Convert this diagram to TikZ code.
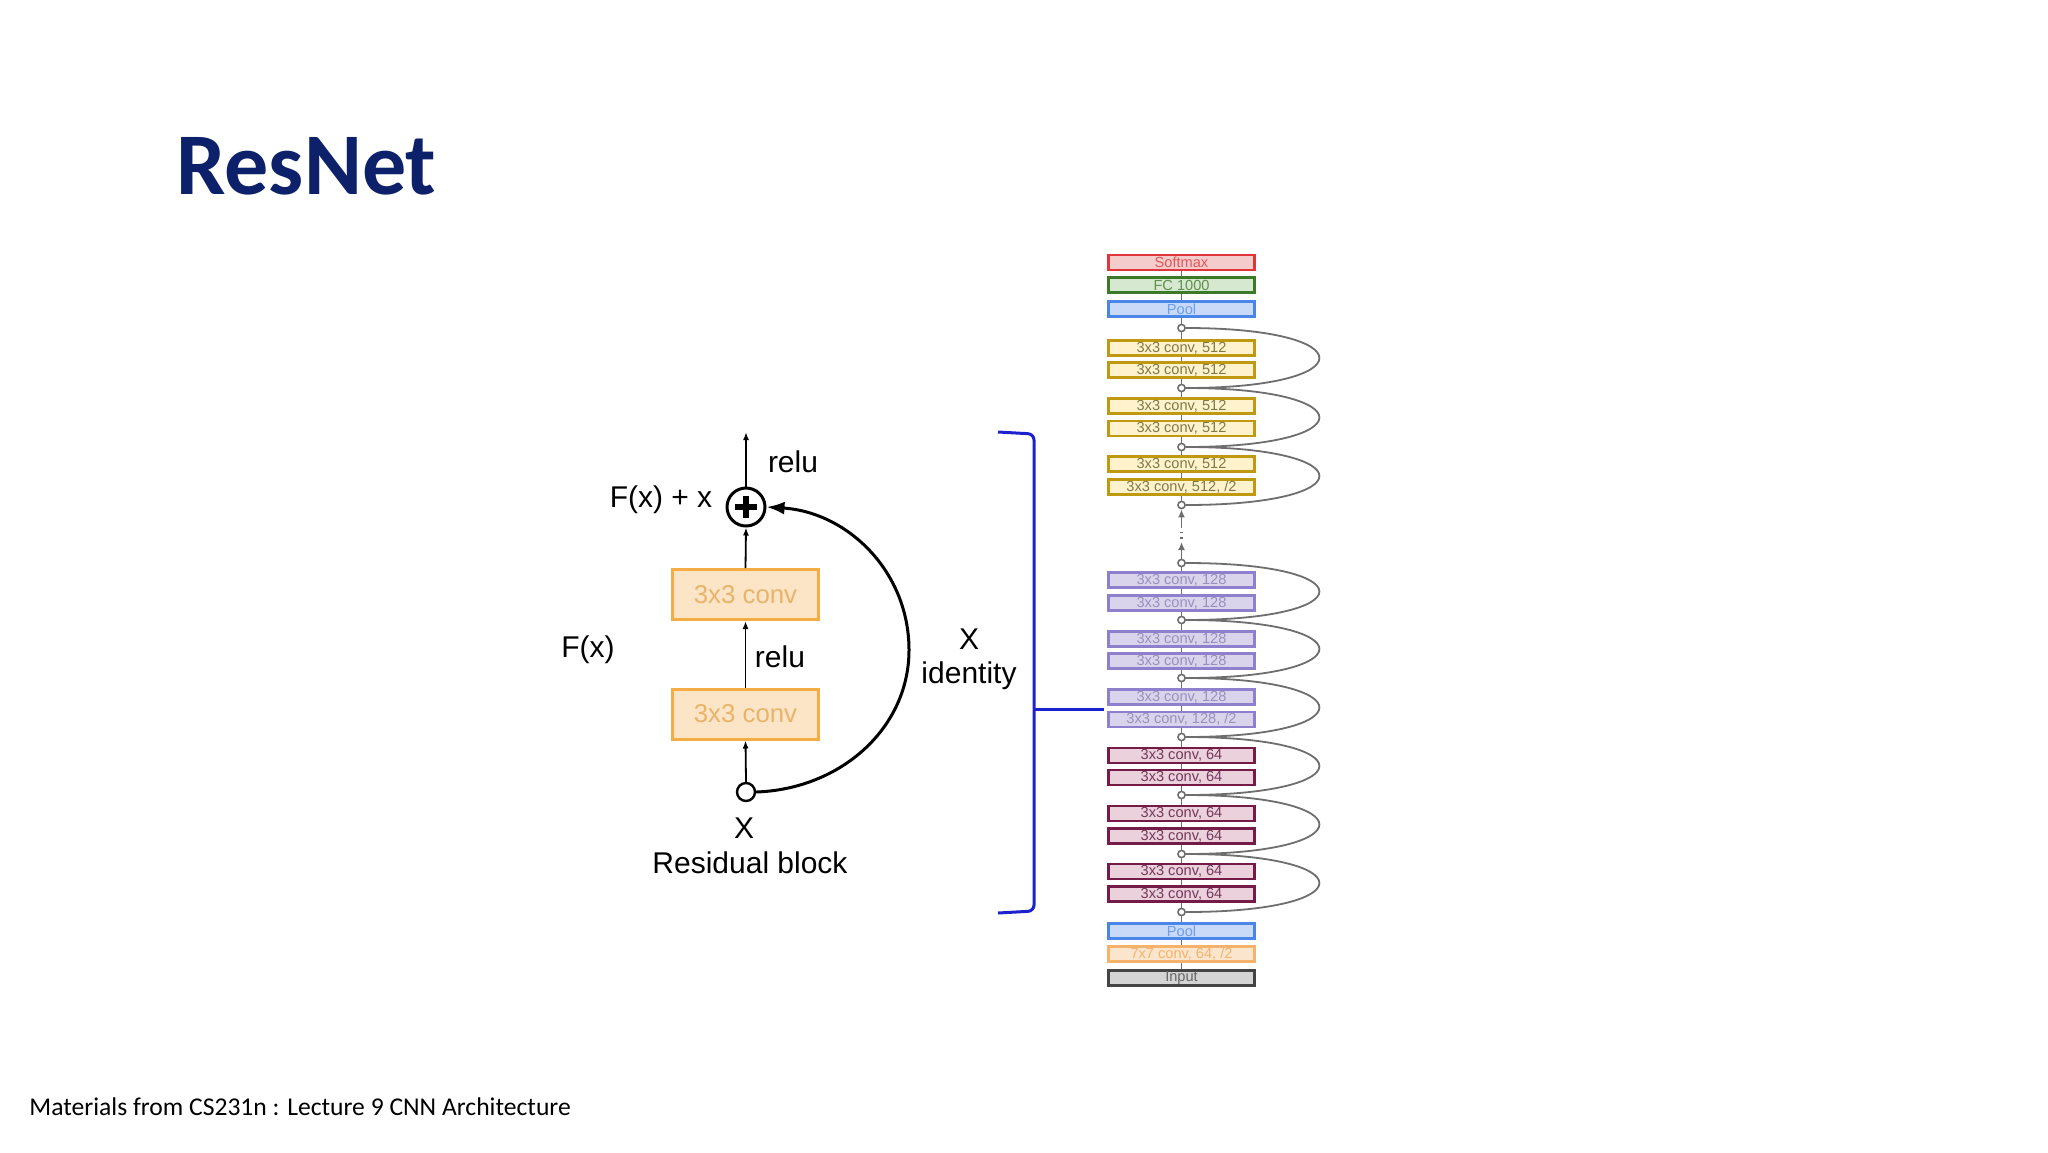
\documentclass[tikz,border=0pt]{standalone}
\usepackage{fontspec}
\setmainfont{Liberation Sans}
\newfontfamily\calibri{Carlito}
\usetikzlibrary{arrows.meta}
\definecolor{titleblue}{HTML}{0C2169}
\definecolor{brk}{HTML}{1E22CC}
\definecolor{rbD}{HTML}{F4AC45}
\definecolor{rbL}{HTML}{FCE4C6}
\definecolor{rbT}{HTML}{E9B46A}
\definecolor{smD}{HTML}{E0353B}\definecolor{smL}{HTML}{F4CCCC}\definecolor{smT}{HTML}{E0565B}
\definecolor{fcD}{HTML}{3C7A2A}\definecolor{fcL}{HTML}{D6E9D0}\definecolor{fcT}{HTML}{5E8F4E}
\definecolor{plD}{HTML}{4A86E8}\definecolor{plL}{HTML}{C9DAF8}\definecolor{plT}{HTML}{6D9EEB}
\definecolor{c5D}{HTML}{BF9A10}\definecolor{c5L}{HTML}{FFF2CC}\definecolor{c5T}{HTML}{7F7A45}
\definecolor{c1D}{HTML}{8E80CC}\definecolor{c1L}{HTML}{D9D4EC}\definecolor{c1T}{HTML}{9891BC}
\definecolor{c6D}{HTML}{741B47}\definecolor{c6L}{HTML}{EAD1DC}\definecolor{c6T}{HTML}{74385A}
\definecolor{c7D}{HTML}{F6B26B}\definecolor{c7L}{HTML}{FCE5CD}\definecolor{c7T}{HTML}{F2B46E}
\definecolor{inD}{HTML}{444444}\definecolor{inL}{HTML}{D4D4D4}\definecolor{inT}{HTML}{666666}
\definecolor{trk}{HTML}{6E6E6E}
\tikzset{
  lbl/.style={inner sep=0pt, font=\fontsize{15}{18}\selectfont},
  rbox/.style={draw=rbD, fill=rbL, text=rbT, line width=1.5pt, minimum width=73pt, minimum height=25pt, inner sep=0pt, font=\fontsize{12.9}{15}\selectfont},
  sbox/.style={line width=1.2pt, minimum width=73pt, minimum height=7.4pt, inner sep=0pt, font=\fontsize{7.3}{8}\selectfont},
  smbox/.style={sbox, draw=smD, fill=smL, text=smT},
  fcbox/.style={sbox, draw=fcD, fill=fcL, text=fcT},
  plbox/.style={sbox, draw=plD, fill=plL, text=plT},
  cvfive/.style={sbox, draw=c5D, fill=c5L, text=c5T},
  cvone/.style={sbox, draw=c1D, fill=c1L, text=c1T},
  cvsix/.style={sbox, draw=c6D, fill=c6L, text=c6T},
  cvseven/.style={sbox, draw=c7D, fill=c7L, text=c7T},
  inbox/.style={sbox, draw=inD, fill=inL, text=inT},
  junc/.style={circle, draw=trk, fill=white, line width=0.8pt, minimum size=3.6pt, inner sep=0pt},
  trunk/.style={draw=trk, line width=0.8pt},
  trunkarrow/.style={trunk, -{Latex[length=4pt,width=3.5pt]}},
  skip/.style={draw=trk, line width=0.9pt},
  sarrow/.style={draw=black, line width=0.9pt, -{Latex[length=4pt,width=3pt]}},
  bigarrow/.style={draw=black, line width=1.5pt, -{Latex[length=9pt,width=6.5pt]}},
  bracket/.style={draw=brk, line width=1.5pt},
}
\begin{document}
\begin{tikzpicture}[x=0.5pt,y=-0.5pt]
\fill[white] (0,0) rectangle (2048,1152);
\useasboundingbox (0,0) rectangle (2048,1152);

% title and footnote
\node[anchor=base west, inner sep=0pt, text=titleblue, font=\calibri\bfseries\fontsize{44}{52}\selectfont] (title) at (176,194) {ResNet};
\node[anchor=base west, inner sep=0pt, font=\calibri\fontsize{12.8}{15}\selectfont] (foot) at (29,1115) {Materials from CS231n : Lecture 9 CNN Architecture};

% residual block
\node[rbox] (conv2) at (745.5,594.5) {3x3 conv};
\node[rbox] (conv1) at (745.5,714) {3x3 conv};
\node[circle, draw=black, fill=white, line width=1.5pt, minimum size=19pt, inner sep=0pt] (plus) at (746,507) {};
\draw[line width=2.6pt] (plus.center) ++(-11,0) -- ++(22,0);
\draw[line width=2.6pt] (plus.center) ++(0,-11) -- ++(0,22);
\node[circle, draw=black, fill=white, line width=1.2pt, minimum size=9pt, inner sep=0pt] (xin) at (746,792) {};
\coordinate (top) at (746,432);
\coordinate (apex) at (909,650);
\draw[sarrow] (plus.north) -- (top);
\draw[sarrow] (conv2.north) -- (plus.south);
\draw[sarrow] (conv1.north) -- (conv2.south);
\draw[sarrow] (xin.north) -- (conv1.south);
\draw[bigarrow] (xin.east) .. controls (841,789) and (909,728) .. (apex) .. controls (909,571) and (847,512) .. (plus.east);

\node[lbl] (relutop) at (793,462) {relu};
\node[lbl] (fxx) at (661,500) {F(x) + x};
\node[lbl] (relumid) at (780,657) {relu};
\node[lbl] (fx) at (588,650) {F(x)};
\node[lbl] (xlab) at (744,828) {X};
\node[lbl] (rblab) at (750,863) {Residual block};
\node[lbl] (xid) at (969,639) {X};
\node[lbl] (idlab) at (969,676) {identity};

% bracket
\draw[bracket, rounded corners=3pt] (998,432) -- (1034,434) -- (1034,911) -- (998,913);
\coordinate (brm) at (1034,709);
\coordinate (brt) at (1104,709);
\draw[bracket] (brm) -- (brt);

% stack
\def\sx{1181.5}
\node[inbox]   (s1)  at (\sx,978)   {Input};
\node[cvseven] (s2)  at (\sx,954)   {7x7 conv, 64, /2};
\node[plbox]   (s3)  at (\sx,931)   {Pool};
\node[junc]    (s4)  at (\sx,912)   {};
\node[cvsix]   (s5)  at (\sx,894)   {3x3 conv, 64};
\node[cvsix]   (s6)  at (\sx,871.5) {3x3 conv, 64};
\node[junc]    (s7)  at (\sx,854)   {};
\node[cvsix]   (s8)  at (\sx,836)   {3x3 conv, 64};
\node[cvsix]   (s9)  at (\sx,813.5) {3x3 conv, 64};
\node[junc]    (s10) at (\sx,795)   {};
\node[cvsix]   (s11) at (\sx,777.5) {3x3 conv, 64};
\node[cvsix]   (s12) at (\sx,755.5) {3x3 conv, 64};
\node[junc]    (s13) at (\sx,737)   {};
\node[cvone]   (s14) at (\sx,719.5) {3x3 conv, 128, /2};
\node[cvone]   (s15) at (\sx,697)   {3x3 conv, 128};
\node[junc]    (s16) at (\sx,678)   {};
\node[cvone]   (s17) at (\sx,661)   {3x3 conv, 128};
\node[cvone]   (s18) at (\sx,639)   {3x3 conv, 128};
\node[junc]    (s19) at (\sx,620)   {};
\node[cvone]   (s20) at (\sx,603)   {3x3 conv, 128};
\node[cvone]   (s21) at (\sx,580)   {3x3 conv, 128};
\node[junc]    (s22) at (\sx,563)   {};
\node[junc]    (s23) at (\sx,505)   {};
\node[cvfive]  (s24) at (\sx,487)   {3x3 conv, 512, /2};
\node[cvfive]  (s25) at (\sx,464)   {3x3 conv, 512};
\node[junc]    (s26) at (\sx,447)   {};
\node[cvfive]  (s27) at (\sx,428.5) {3x3 conv, 512};
\node[cvfive]  (s28) at (\sx,406)   {3x3 conv, 512};
\node[junc]    (s29) at (\sx,388)   {};
\node[cvfive]  (s30) at (\sx,370)   {3x3 conv, 512};
\node[cvfive]  (s31) at (\sx,348)   {3x3 conv, 512};
\node[junc]    (s32) at (\sx,328)   {};
\node[plbox]   (s33) at (\sx,309)   {Pool};
\node[fcbox]   (s34) at (\sx,285)   {FC 1000};
\node[smbox]   (s35) at (\sx,262.5) {Softmax};

\foreach \i in {1,...,21,23,24,...,34} {
  \pgfmathtruncatemacro{\j}{\i+1}
  \draw[trunk] (s\i.north) -- (s\j.south);
}
% gap with dots
\coordinate (gapB) at (\sx,542);
\coordinate (gapA) at (\sx,528);
\draw[trunkarrow] (s22.north) -- (gapB);
\draw[trunk, dotted, line width=1.2pt] (gapB) ++(0,-3) -- (gapA);
\draw[trunkarrow] (gapA) -- (s23.south);

% skip connections
\foreach \a/\b in {s4/s7, s7/s10, s10/s13, s13/s16, s16/s19, s19/s22, s23/s26, s26/s29, s29/s32} {
  \draw[skip] (\a.east) .. controls +(178,0) and +(178,0) .. (\b.east);
}
\end{tikzpicture}
\end{document}
